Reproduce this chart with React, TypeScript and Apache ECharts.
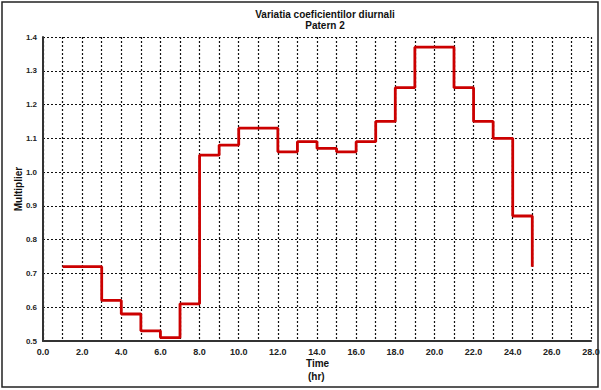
import React, { useEffect, useRef } from "react";
import * as echarts from "echarts";

const hours = [1, 2, 3, 4, 5, 6, 7, 8, 9, 10, 11, 12, 13, 14, 15, 16, 17, 18, 19, 20, 21, 22, 23, 24, 25];
const multipliers = [0.72, 0.72, 0.62, 0.58, 0.53, 0.51, 0.61, 1.05, 1.08, 1.13, 1.13, 1.06, 1.09, 1.07, 1.06, 1.09, 1.15, 1.25, 1.37, 1.37, 1.25, 1.15, 1.1, 0.87, 0.72];
const titleText = "Variatia coeficientilor diurnali";
const subtitleText = "Patern 2";

export default function App() {
  const ref = useRef<HTMLDivElement>(null);
  useEffect(() => {
    const chart = echarts.init(ref.current!, null, { renderer: "svg" });
    const font = "Arial, 'Liberation Sans', sans-serif";
    chart.setOption({
      animation: false,
      backgroundColor: "#fff",
      title: {
        text: titleText,
        subtext: subtitleText,
        left: 320,
        top: 4,
        textAlign: "center",
        itemGap: 1,
        textStyle: { fontSize: 10, fontWeight: "bold", color: "#111", fontFamily: font },
        subtextStyle: { fontSize: 10, fontWeight: "bold", color: "#111", fontFamily: font },
      },
      graphic: [
        {
          type: "rect",
          shape: { x: 2, y: 2, width: 596, height: 385 },
          style: { fill: "none", stroke: "#222", lineWidth: 1.5 },
          silent: true,
        },
        {
          type: "text",
          left: 306,
          top: 358,
          style: { text: "Time", fill: "#111", font: "bold 10px Arial, 'Liberation Sans', sans-serif" },
        },
        {
          type: "text",
          left: 308,
          top: 371,
          style: { text: "(hr)", fill: "#111", font: "bold 10px Arial, 'Liberation Sans', sans-serif" },
        },
      ],
      grid: { left: 43, right: 10, top: 37, bottom: 49, containLabel: false, outerBoundsMode: "none" },
      xAxis: {
        type: "value",
        min: 0,
        max: 28,
        interval: 1,
        axisLine: { show: true, lineStyle: { color: "#333", width: 2 } },
        axisTick: { show: false },
        axisLabel: {
          formatter: (v: number) => (v % 2 === 0 ? v.toFixed(1) : ""),
          fontSize: 9,
          fontWeight: "bold",
          color: "#222",
          fontFamily: font,
          margin: 6,
          showMaxLabel: true,
        },
        splitLine: { show: true, lineStyle: { color: "#111", type: [2, 2], width: 1.2 } },
      },
      yAxis: {
        type: "value",
        min: 0.5,
        max: 1.4,
        interval: 0.1,
        name: "Multiplier",
        nameLocation: "middle",
        nameGap: 20,
        nameMoveOverlap: false,
        nameTextStyle: { fontSize: 10, fontWeight: "bold", color: "#111", fontFamily: font },
        axisLine: { show: true, lineStyle: { color: "#333", width: 2 } },
        axisTick: { show: false },
        axisLabel: {
          formatter: (v: number) => v.toFixed(1),
          fontSize: 8,
          fontWeight: "bold",
          color: "#222",
          fontFamily: font,
          margin: 6,
        },
        splitLine: { show: true, lineStyle: { color: "#111", type: [2, 2], width: 1.2 } },
      },
      series: [
        {
          type: "line",
          step: "end",
          data: hours.map((h, i) => [h, multipliers[i]]),
          showSymbol: false,
          lineStyle: { color: "#cc0000", width: 2.8 },
          z: 5,
        },
      ],
    });
    return () => chart.dispose();
  }, []);
  return <div ref={ref} style={{ width: 601, height: 390, position: "absolute", left: 0, top: 0 }} />;
}
